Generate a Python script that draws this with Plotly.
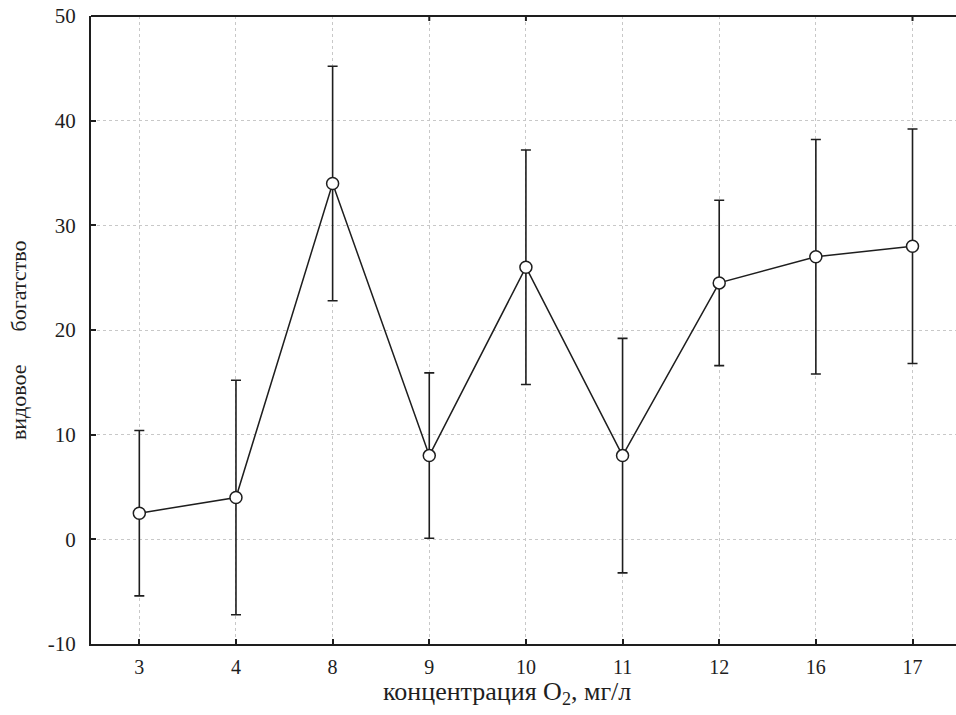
import plotly.graph_objects as go

categories = ["3", "4", "8", "9", "10", "11", "12", "16", "17"]
means = [2.5, 4.0, 34.0, 8.0, 26.0, 8.0, 24.5, 27.0, 28.0]
errors = [7.9, 11.2, 11.2, 7.9, 11.2, 11.2, 7.9, 11.2, 11.2]
y_ticks = [-10, 0, 10, 20, 30, 40, 50]
x_title = "концентрация O<sub>2</sub>, мг/л"
y_title = "видовое\u00a0\u00a0\u00a0\u00a0\u00a0 богатство"

ink = "#1e1e1e"
font_family = "Liberation Serif, Times New Roman, DejaVu Serif, serif"

fig = go.Figure()
fig.add_trace(go.Scatter(
    x=categories,
    y=means,
    mode="lines+markers",
    line=dict(color=ink, width=1.5),
    marker=dict(symbol="circle", size=12, color="white", line=dict(color=ink, width=1.5)),
    error_y=dict(type="data", array=errors, visible=True, color=ink, thickness=1.6, width=5),
    showlegend=False,
    hoverinfo="skip",
))

# top frame line with inward ticks
fig.add_shape(type="line", xref="paper", yref="paper", x0=0, x1=1, y0=1, y1=1,
              line=dict(color=ink, width=2))
for c in categories:
    fig.add_shape(type="line", xref="x", yref="paper", x0=c, x1=c, y0=1, y1=0.992,
                  line=dict(color=ink, width=2))

# axis titles
fig.add_annotation(text=x_title, xref="paper", yref="paper", x=0.481, y=-0.078,
                   xanchor="center", yanchor="middle", showarrow=False,
                   font=dict(family=font_family, size=26, color=ink))
fig.add_annotation(text=y_title, xref="paper", yref="paper", x=-0.0844, y=0.484,
                   xanchor="center", yanchor="middle", textangle=-90, showarrow=False,
                   font=dict(family=font_family, size=22, color=ink))

fig.update_layout(
    width=956,
    height=715,
    margin=dict(l=91, r=0, t=16, b=71, autoexpand=False),
    paper_bgcolor="white",
    plot_bgcolor="white",
    font=dict(family=font_family, size=20, color=ink),
    xaxis=dict(
        type="category",
        categoryorder="array",
        categoryarray=categories,
        range=[-0.5, 8.45],
        automargin=False,
        showline=True,
        linecolor=ink,
        linewidth=2,
        mirror=False,
        ticks="inside",
        ticklen=5,
        tickwidth=2,
        tickcolor=ink,
        showgrid=True,
        gridcolor="#c8c8c8",
        griddash="dot",
        gridwidth=1,
        zeroline=False,
        ticklabelstandoff=4,
        tickfont=dict(family=font_family, size=20, color=ink),
    ),
    yaxis=dict(
        range=[-10, 50],
        tickvals=y_ticks,
        ticktext=[str(v) for v in y_ticks],
        automargin=False,
        showline=True,
        linecolor=ink,
        linewidth=2,
        mirror=False,
        ticks="inside",
        ticklen=5,
        tickwidth=2,
        tickcolor=ink,
        showgrid=True,
        gridcolor="#c8c8c8",
        griddash="dot",
        gridwidth=1,
        zeroline=False,
        ticklabelstandoff=9,
        ticklabeloverflow="allow",
        tickfont=dict(family=font_family, size=21, color=ink),
    ),
)

fig.write_html(
    "out.html",
    config={"displayModeBar": False, "staticPlot": True},
    post_script="document.documentElement.style.overflow='hidden';document.body.style.margin='0';document.body.style.overflow='hidden';",
)
